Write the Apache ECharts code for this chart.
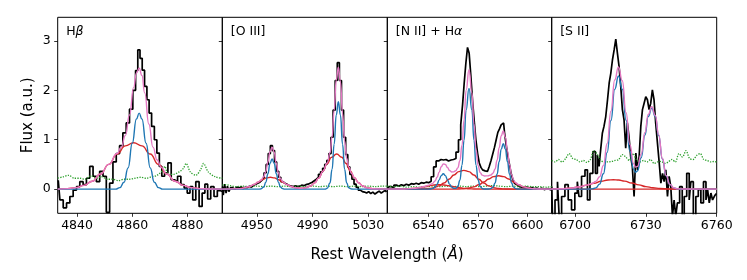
<!DOCTYPE html>
<html><head><meta charset="utf-8">
<script src="https://cdn.jsdelivr.net/npm/echarts@6/dist/echarts.min.js"></script>
<style>html,body{margin:0;padding:0;background:#fff}#c{width:747px;height:280px}</style>
</head><body><div id="c"></div>
<script>
// ---------- data ----------
const panelTitles = ['H{i|β}', '[O III]', '[N II] + H{i|α}', '[S II]'];
const xTicks = [[4840, 4860, 4880], [4950, 4990, 5030], [6540, 6570, 6600], [6700, 6730, 6760]];
const yTicks = [0, 1, 2, 3];

// Hbeta panel
const hbData = [[4833.2,0.18],[4834.4,-0.22],[4835.6,-0.38],[4836.8,-0.28],[4838.0,-0.15],[4839.2,-0.02],[4840.4,0.05],[4841.6,0.15],[4842.8,0.09],[4844.0,0.22],[4845.2,0.46],[4846.4,0.26],[4847.6,0.15],[4848.8,0.36],[4850.0,0.26],[4851.2,-0.47],[4852.4,0.12],[4853.6,0.55],[4854.8,0.72],[4856.0,0.88],[4857.2,1.14],[4858.4,1.34],[4859.6,1.62],[4860.8,2.0],[4861.6,2.4],[4862.4,2.82],[4863.2,2.65],[4864.0,2.41],[4864.9,2.08],[4865.7,1.81],[4866.5,1.54],[4867.5,1.27],[4868.5,1.0],[4869.3,0.73],[4870.3,0.46],[4871.1,0.26],[4872.3,0.33],[4873.5,0.53],[4874.7,0.19],[4875.8,0.15],[4877.0,0.26],[4878.2,0.09],[4879.4,0.02],[4880.4,-0.08],[4881.4,0.05],[4882.4,-0.22],[4883.6,0.15],[4884.8,-0.35],[4885.8,-0.08],[4886.8,0.1],[4887.8,-0.2],[4889.0,0.05],[4890.2,-0.15],[4891.4,-0.03],[4892.5,-0.05]];
const hbTotal = [[4833,0],[4836.5,0.01],[4839.5,0.03],[4842.5,0.075],[4845.5,0.16],[4848.5,0.305],[4851.5,0.5],[4854.5,0.72],[4856,0.85],[4857.5,1.085],[4859,1.5],[4860.5,2.06],[4861.5,2.35],[4862.5,2.45],[4863.5,2.3],[4864.5,1.95],[4866,1.32],[4867.5,0.85],[4869,0.59],[4870.5,0.44],[4872.5,0.305],[4875.5,0.16],[4878.5,0.075],[4881.5,0.03],[4884.5,0.01],[4887.5,0.003],[4892.6,0]];
const hbNarrow = [[4833,0],[4854,0],[4855.5,0.03],[4857,0.14],[4858.5,0.43],[4860,0.93],[4861.5,1.42],[4862.5,1.54],[4863.5,1.42],[4865,0.93],[4866.5,0.43],[4868,0.14],[4869.5,0.03],[4871,0],[4892.6,0]];
const hbBroad = [[4833,0],[4836.5,0.01],[4839.5,0.03],[4842.5,0.075],[4845.5,0.16],[4848.5,0.305],[4851.5,0.5],[4854.5,0.71],[4857.5,0.876],[4860.5,0.94],[4863.5,0.876],[4866.5,0.71],[4869.5,0.5],[4872.5,0.305],[4875.5,0.16],[4878.5,0.075],[4881.5,0.03],[4884.5,0.01],[4887.5,0.003],[4892.6,0]];
const hbNoise = [[4833,0.22],[4835,0.25],[4837,0.28],[4839,0.22],[4841,0.22],[4843,0.2],[4845,0.27],[4847,0.22],[4849,0.25],[4851,0.2],[4853,0.2],[4855,0.17],[4857,0.2],[4859,0.2],[4861,0.22],[4863,0.24],[4865,0.22],[4867,0.25],[4869,0.28],[4871,0.38],[4871.8,0.46],[4873,0.3],[4875,0.3],[4877,0.35],[4878.5,0.42],[4879.5,0.52],[4881,0.35],[4883,0.28],[4884.8,0.4],[4885.8,0.52],[4887.5,0.35],[4890,0.25],[4892.6,0.22]];

// [O III] panel
const oiiiData = [[4925.5,0.05],[4926.5,-0.12],[4927.5,0.1],[4928.5,-0.08],[4929.5,0.06],[4930.5,-0.05],[4932,0.03],[4933.5,0.0],[4935,0.04],[4936.5,0.02],[4938,0.05],[4939.5,0.01],[4941,0.04],[4942.5,0.03],[4944,0.06],[4945.5,0.04],[4947,0.08],[4948.5,0.1],[4950,0.12],[4951.5,0.14],[4953,0.18],[4954.5,0.22],[4956,0.33],[4957.5,0.5],[4959,0.72],[4960.5,0.88],[4962,0.78],[4963.5,0.55],[4965,0.36],[4966.5,0.24],[4968,0.15],[4969.5,0.12],[4971,0.1],[4972.5,0.07],[4974,0.06],[4975.5,0.05],[4977,0.07],[4978.5,0.05],[4980,0.06],[4981.5,0.08],[4983,0.07],[4984.5,0.09],[4986,0.1],[4987.5,0.12],[4989,0.14],[4990.5,0.17],[4992,0.2],[4993.5,0.24],[4995,0.3],[4996.5,0.35],[4998,0.42],[4999.5,0.5],[5001,0.58],[5002.5,0.72],[5004,1.05],[5005.5,1.6],[5007,2.2],[5008.5,2.56],[5010,2.2],[5011.5,1.6],[5013,1.05],[5014.5,0.7],[5016,0.45],[5017.5,0.3],[5019,0.2],[5020.5,0.1],[5022,0.04],[5023.5,-0.02],[5025,-0.05],[5026.5,-0.06],[5028,-0.08],[5029.5,-0.05],[5031,-0.09],[5032.5,-0.06],[5034,-0.1],[5035.5,-0.07],[5037,-0.04],[5038.5,-0.08],[5040,-0.05],[5041.5,-0.03],[5043,-0.06]];
const oiiiTotal = [[4925.3,0],[4938,0.009],[4945,0.053],[4948,0.092],[4951,0.14],[4953,0.18],[4955,0.25],[4956.5,0.36],[4958,0.55],[4959.5,0.76],[4961,0.85],[4962.5,0.75],[4964,0.52],[4965.5,0.33],[4967,0.21],[4969,0.144],[4971.6,0.092],[4974.6,0.053],[4977.6,0.029],[4981.6,0.016],[4985,0.026],[4988.5,0.063],[4991.5,0.126],[4994.5,0.228],[4997.5,0.365],[5000.5,0.53],[5002.5,0.73],[5004,1.06],[5005.5,1.6],[5007,2.21],[5008.5,2.47],[5010,2.17],[5011.5,1.54],[5013,0.97],[5014.5,0.62],[5016,0.45],[5018,0.32],[5020,0.233],[5023,0.13],[5026,0.063],[5029,0.027],[5033,0.007],[5043.6,0]];
const oiiiNarrow = [[4925.3,0],[4952,0],[4953,0.005],[4955,0.043],[4956.5,0.14],[4958,0.31],[4959.5,0.52],[4961,0.61],[4962.5,0.52],[4964,0.31],[4965.5,0.14],[4967,0.043],[4968.5,0.01],[4970,0],[4999,0],[5000.5,0.016],[5002.5,0.124],[5004,0.4],[5005.5,0.91],[5007,1.5],[5008.5,1.77],[5010,1.5],[5011.5,0.91],[5013,0.4],[5014.5,0.124],[5016,0.028],[5017.5,0.004],[5019,0],[5043.6,0]];
const oiiiBroad = [[4925.3,0],[4932,0.001],[4938,0.009],[4942,0.027],[4945,0.053],[4948,0.092],[4951,0.14],[4954,0.19],[4957,0.227],[4959.8,0.24],[4962.6,0.227],[4965.6,0.19],[4968.6,0.14],[4971.6,0.092],[4974.6,0.053],[4977.6,0.029],[4981.6,0.016],[4985,0.026],[4988.5,0.063],[4991.5,0.126],[4994.5,0.228],[4997.5,0.365],[5000.5,0.516],[5003.5,0.643],[5007.3,0.71],[5011,0.646],[5014,0.52],[5017,0.37],[5020,0.233],[5023,0.13],[5026,0.063],[5029,0.027],[5033,0.007],[5038,0.001],[5043.6,0]];
const oiiiNoise = [[4925.3,0.08],[4928,0.09],[4931,0.07],[4935,0.05],[4940,0.06],[4945,0.05],[4950,0.06],[4955,0.05],[4960,0.06],[4965,0.05],[4970,0.06],[4975,0.05],[4980,0.06],[4985,0.05],[4990,0.06],[4995,0.05],[5000,0.06],[5005,0.05],[5010,0.06],[5015,0.05],[5020,0.06],[5025,0.05],[5030,0.06],[5035,0.05],[5040,0.06],[5043.6,0.06]];

// [N II] + Halpha panel
const niiData = [[6515.5,0.0],[6517,0.05],[6518.5,0.03],[6520,0.08],[6521.5,0.06],[6523,0.09],[6524.5,0.07],[6526,0.1],[6527.5,0.08],[6529,0.11],[6530.5,0.1],[6532,0.12],[6533.5,0.1],[6535,0.13],[6536.5,0.12],[6538,0.14],[6539.5,0.13],[6541,0.16],[6542.5,0.25],[6544,0.45],[6545.5,0.57],[6547,0.6],[6548.5,0.59],[6550,0.6],[6551.5,0.57],[6553,0.59],[6554.5,0.6],[6556,0.62],[6557.5,0.75],[6559,1.0],[6560.2,1.3],[6561.2,1.7],[6562.2,2.15],[6563.2,2.55],[6564.2,2.87],[6565.2,2.75],[6566.2,2.3],[6567.2,1.81],[6568.2,1.4],[6569.3,1.0],[6570.3,0.72],[6571.3,0.53],[6572.3,0.44],[6573.3,0.39],[6574.3,0.37],[6575.3,0.36],[6576.3,0.4],[6577.3,0.46],[6578.5,0.58],[6579.5,0.72],[6580.5,0.85],[6581.5,1.0],[6582.5,1.15],[6583.5,1.22],[6584.5,1.3],[6585.5,1.34],[6586.5,1.15],[6587.5,0.9],[6588.5,0.68],[6589.5,0.5],[6590.5,0.32],[6591.5,0.2],[6592.5,0.12],[6593.5,0.09],[6595,0.05],[6596.5,0.04],[6598,0.03],[6599.5,0.04],[6601,0.02],[6602.5,0.03],[6604,0.01],[6605.5,0.02],[6607,0.0],[6608.5,0.02],[6610,-0.01],[6611.5,0.01],[6613,0.0],[6614.3,-0.02]];
const niiTotal = [[6515.3,0],[6525.5,0.003],[6531.5,0.015],[6534.5,0.03],[6537.5,0.052],[6540.5,0.081],[6542.5,0.112],[6544.1,0.164],[6545.35,0.24],[6546.6,0.345],[6547.85,0.452],[6549.1,0.51],[6550.35,0.498],[6551.6,0.438],[6552.85,0.378],[6554.1,0.347],[6555.35,0.349],[6556.6,0.372],[6557.85,0.431],[6559.1,0.573],[6560.35,0.882],[6561.6,1.394],[6562.85,2.0],[6564.6,2.42],[6566.35,1.955],[6567.6,1.325],[6568.85,0.794],[6570.1,0.475],[6571.35,0.334],[6572.6,0.283],[6574,0.267],[6576,0.268],[6577.8,0.285],[6579.05,0.32],[6580.3,0.408],[6581.55,0.586],[6582.8,0.839],[6584.05,1.082],[6585.3,1.179],[6586.55,1.051],[6587.8,0.777],[6589.05,0.494],[6590.3,0.292],[6591.55,0.182],[6592.8,0.128],[6594.5,0.089],[6597.5,0.046],[6600.5,0.0215],[6603.5,0.0086],[6606.5,0.003],[6614.5,0]];
const niiNarrow = [[6515.3,0],[6540,0],[6541.6,0.003],[6542.85,0.014],[6544.1,0.042],[6545.35,0.1],[6546.6,0.188],[6547.85,0.274],[6549.1,0.31],[6550.35,0.274],[6551.6,0.188],[6552.85,0.1],[6554.1,0.042],[6555.35,0.016],[6556.6,0.015],[6557.85,0.054],[6559.1,0.18],[6560.35,0.48],[6561.6,0.99],[6562.85,1.6],[6564.6,2.04],[6566.35,1.6],[6567.6,0.99],[6568.85,0.48],[6570.1,0.18],[6571.35,0.054],[6572.6,0.012],[6574,0.001],[6576,0.001],[6577.8,0.01],[6579.05,0.04],[6580.3,0.124],[6581.55,0.3],[6582.8,0.558],[6584.05,0.81],[6585.3,0.92],[6586.55,0.81],[6587.8,0.558],[6589.05,0.3],[6590.3,0.124],[6591.55,0.04],[6592.8,0.01],[6594,0.002],[6595,0],[6614.5,0]];
const niiBroadA = [[6515.3,0],[6519.5,0.0003],[6522.5,0.001],[6525.5,0.003],[6528.5,0.007],[6531.5,0.015],[6534.5,0.029],[6537.5,0.048],[6540.5,0.068],[6543.5,0.084],[6546.5,0.09],[6549.5,0.084],[6552.5,0.068],[6555.5,0.048],[6558.5,0.029],[6561.5,0.015],[6564.5,0.007],[6567.5,0.003],[6570.5,0.001],[6576,0],[6614.5,0]];
const niiBroadB = [[6515.3,0],[6534.5,0.0013],[6537.5,0.004],[6540.5,0.012],[6543.5,0.03],[6546.5,0.065],[6549.5,0.124],[6552.5,0.2],[6555.5,0.287],[6558.5,0.354],[6561.5,0.38],[6564.5,0.354],[6567.5,0.287],[6570.5,0.2],[6573.5,0.124],[6576.5,0.065],[6579.5,0.03],[6582.5,0.012],[6585.5,0.004],[6588.5,0.0013],[6595,0],[6614.5,0]];
const niiBroadC = [[6515.3,0],[6552,0],[6555.5,0.001],[6558.5,0.003],[6561.5,0.0086],[6564.5,0.0215],[6567.5,0.046],[6570.5,0.088],[6573.5,0.143],[6576.5,0.204],[6579.5,0.252],[6582.5,0.27],[6585.5,0.252],[6588.5,0.204],[6591.5,0.143],[6594.5,0.088],[6597.5,0.046],[6600.5,0.0215],[6603.5,0.0086],[6606.5,0.003],[6609.5,0.001],[6614.5,0]];
const niiNoise = [[6515.3,0.06],[6519,0.05],[6523,0.06],[6527,0.04],[6531,0.05],[6535,0.04],[6539,0.05],[6543,0.06],[6547,0.05],[6551,0.06],[6555,0.05],[6559,0.06],[6563,0.05],[6567,0.06],[6571,0.05],[6575,0.06],[6579,0.07],[6583,0.06],[6587,0.05],[6591,0.06],[6595,0.05],[6599,0.06],[6603,0.05],[6607,0.05],[6611,0.04],[6614.5,0.05]];

// [S II] panel
const siiData = [[6690.1,0.05],[6690.8,-0.55],[6692.2,-0.22],[6692.9,0.15],[6693.6,-0.55],[6695.0,-0.15],[6696.4,0.09],[6697.8,-0.22],[6699.2,-0.42],[6700.6,-0.08],[6701.3,0.15],[6702.0,-0.15],[6703.5,0.26],[6704.9,0.39],[6705.6,-0.22],[6707.0,0.32],[6708.1,0.76],[6709.1,0.32],[6709.8,0.69],[6710.5,0.46],[6711.2,0.8],[6711.9,1.13],[6712.6,1.27],[6713.4,1.47],[6714.1,1.81],[6714.8,2.15],[6715.5,2.35],[6716.2,2.62],[6716.9,2.82],[6717.6,3.04],[6718.3,2.75],[6719.0,2.48],[6719.7,2.08],[6720.4,1.61],[6721.1,1.4],[6721.8,0.83],[6722.5,1.34],[6723.2,1.06],[6723.9,0.66],[6724.6,0.46],[6725.4,-0.15],[6726.1,0.73],[6726.8,0.39],[6727.5,0.66],[6728.2,1.27],[6728.9,1.61],[6729.6,1.74],[6730.3,1.87],[6731.0,1.81],[6731.7,1.61],[6732.4,1.74],[6733.1,2.01],[6733.8,1.81],[6734.5,1.34],[6735.3,0.93],[6736.0,0.53],[6736.7,0.12],[6737.4,0.32],[6738.1,0.15],[6738.8,0.39],[6739.5,-0.15],[6740.2,0.26],[6740.9,0.05],[6741.6,-0.55],[6742.3,-0.22],[6743.0,-0.55],[6743.7,-0.28],[6744.9,0.05],[6745.9,-0.55],[6746.6,-0.15],[6748.0,0.32],[6748.7,-0.22],[6749.4,0.15],[6750.8,-0.55],[6751.5,-0.15],[6752.9,-0.01],[6753.7,-0.28],[6755.1,0.15],[6755.8,-0.22],[6756.5,-0.01],[6757.2,-0.28],[6757.9,-0.08],[6758.6,-0.22],[6759.3,-0.15],[6760,-0.1]];
const siiTotal = [[6690.1,0.002],[6694,0.006],[6698,0.019],[6702,0.047],[6705,0.08],[6707.2,0.113],[6708.8,0.155],[6710.4,0.25],[6712,0.478],[6713.6,0.925],[6715.2,1.578],[6716.8,2.211],[6718.4,2.474],[6720,2.194],[6721.6,1.549],[6723.2,0.903],[6724.8,0.514],[6725.6,0.445],[6726.4,0.459],[6728,0.707],[6729.6,1.148],[6731,1.513],[6732.5,1.67],[6734,1.491],[6735.4,1.103],[6737,0.62],[6738.6,0.273],[6740.2,0.095],[6741.8,0.027],[6743.4,0.007],[6746,0.001],[6760,0]];
const siiNarrow = [[6690.1,0],[6705,0],[6707.2,0.005],[6708.8,0.025],[6710.4,0.1],[6712,0.31],[6713.6,0.744],[6715.2,1.389],[6716.8,2.021],[6718.4,2.29],[6720,2.022],[6721.6,1.394],[6723.2,0.768],[6724.8,0.4],[6725.6,0.342],[6726.4,0.367],[6728,0.635],[6729.6,1.093],[6731,1.471],[6732.5,1.64],[6734,1.47],[6735.4,1.088],[6737,0.61],[6738.6,0.267],[6740.2,0.091],[6741.8,0.024],[6743.4,0.005],[6745,0.0008],[6746,0],[6760,0]];
const siiBroadA = [[6690.1,0.0017],[6694,0.006],[6698,0.019],[6702,0.047],[6705,0.08],[6708,0.119],[6711,0.158],[6714,0.184],[6716.2,0.19],[6718.5,0.183],[6721,0.162],[6724,0.125],[6727,0.085],[6730,0.051],[6733,0.027],[6736,0.013],[6740,0.004],[6745,0.0006],[6760,0]];
const siiBroadB = [[6690.1,0],[6760,0]];
const siiNoise = [[6690.1,0.58],[6691.5,0.55],[6693,0.6],[6694.5,0.55],[6696,0.62],[6697.5,0.72],[6699,0.62],[6700.5,0.6],[6702,0.55],[6703.5,0.58],[6705,0.54],[6706.5,0.6],[6708,0.78],[6709.5,0.7],[6711,0.58],[6712.5,0.55],[6714,0.55],[6715.5,0.56],[6717,0.58],[6718.5,0.6],[6720,0.7],[6721.5,0.65],[6723,0.58],[6724.5,0.72],[6726,0.6],[6727.5,0.55],[6729,0.58],[6730.5,0.55],[6732,0.6],[6733.5,0.52],[6735,0.55],[6736.5,0.56],[6738,0.52],[6739.5,0.55],[6741,0.6],[6742.5,0.55],[6744,0.72],[6745.5,0.65],[6747,0.78],[6748.5,0.62],[6750,0.6],[6751.5,0.68],[6753,0.72],[6754.5,0.6],[6756,0.58],[6757.5,0.55],[6759,0.56],[6760,0.55]];

const panels = [
  {data: hbData, total: hbTotal, narrow: [hbNarrow], broad: [hbBroad], noise: hbNoise},
  {data: oiiiData, total: oiiiTotal, narrow: [oiiiNarrow], broad: [oiiiBroad], noise: oiiiNoise},
  {data: niiData, total: niiTotal, narrow: [niiNarrow], broad: [niiBroadA, niiBroadB, niiBroadC], noise: niiNoise},
  {data: siiData, total: siiTotal, narrow: [siiNarrow], broad: [siiBroadA, siiBroadB], noise: siiNoise}
];

// ---------- layout ----------
const FONT = 'DejaVu Sans';
const xRanges = [[4833, 4892.6], [4925.3, 5043.6], [6515.3, 6614.5], [6690.1, 6760]];
const gridLefts = [57.7, 222.3, 387.3, 551.7];
const gridWidths = [164.6, 165, 164.4, 165];
const gridTop = 17.3, gridHeight = 196;
const yMin = -0.49, yMax = 3.48;

const grids = [], xAxes = [], yAxes = [], series = [], titles = [];
panels.forEach((p, i) => {
  grids.push({left: gridLefts[i], width: gridWidths[i], top: gridTop, height: gridHeight,
    show: true, borderColor: '#000', borderWidth: 1, backgroundColor: 'transparent', containLabel: false});
  xAxes.push({type: 'value', gridIndex: i, min: xRanges[i][0], max: xRanges[i][1], position: 'bottom',
    axisLine: {show: false, onZero: false}, splitLine: {show: false},
    axisTick: {show: true, inside: false, length: 3.5, lineStyle: {color: '#000', width: 0.8}, customValues: xTicks[i]},
    axisLabel: {show: true, margin: 6, color: '#000', fontSize: 12.5, fontFamily: FONT, customValues: xTicks[i],
      formatter: v => String(v)}});
  yAxes.push({type: 'value', gridIndex: i, min: yMin, max: yMax, position: 'left',
    axisLine: {show: false, onZero: false}, splitLine: {show: false},
    axisTick: {show: true, inside: false, length: 3.5, lineStyle: {color: '#000', width: 0.8}, customValues: yTicks},
    axisLabel: {show: i === 0, margin: 7, color: '#000', fontSize: 12.5, fontFamily: FONT, customValues: yTicks},
    name: i === 0 ? 'Flux (a.u.)' : '', nameLocation: 'middle', nameGap: 22,
    nameTextStyle: {color: '#000', fontSize: 15, fontFamily: FONT}});
  const base = {type: 'line', xAxisIndex: i, yAxisIndex: i, showSymbol: false, symbol: 'none', animation: false, clip: true,
    emphasis: {disabled: true}, silent: true};
  const solid = (color, w) => ({color: color, width: w, type: 'solid', opacity: 1});
  series.push(Object.assign({}, base, {data: p.data, step: 'middle', lineStyle: solid('#000', 1.7), z: 1}));
  series.push(Object.assign({}, base, {data: p.noise, smooth: 0.3,
    lineStyle: {color: '#2ca02c', width: 1.3, type: 'dotted', opacity: 1}, z: 2}));
  p.broad.forEach(b => series.push(Object.assign({}, base, {data: b, smooth: true, smoothMonotone: 'x', lineStyle: solid('#d62728', 1.4), z: 3})));
  p.narrow.forEach(b => series.push(Object.assign({}, base, {data: b, smooth: true, smoothMonotone: 'x', lineStyle: solid('#1f77b4', 1.4), z: 4})));
  series.push(Object.assign({}, base, {data: p.total, smooth: true, smoothMonotone: 'x', lineStyle: solid('#e377c2', 1.4), z: 5}));
  titles.push({text: panelTitles[i], left: gridLefts[i] + 8.5, top: 25, padding: 0,
    textStyle: {color: '#000', fontSize: 12.5, fontWeight: 'normal', fontFamily: FONT,
      rich: {i: {fontStyle: 'italic', fontSize: 12.5, fontFamily: FONT, color: '#000'}}}});
});

const chart = echarts.init(document.getElementById('c'), null, {renderer: 'canvas'});
chart.setOption({
  animation: false,
  backgroundColor: '#fff',
  title: titles,
  grid: grids, xAxis: xAxes, yAxis: yAxes, series: series,
  graphic: [{type: 'text', x: 387, y: 255,
    style: {text: 'Rest Wavelength ({i|Å})', fill: '#000', font: '15px "DejaVu Sans"', align: 'center', verticalAlign: 'middle',
      rich: {i: {fontStyle: 'italic', fontSize: 15, fontFamily: FONT}}}}]
});
</script></body></html>
